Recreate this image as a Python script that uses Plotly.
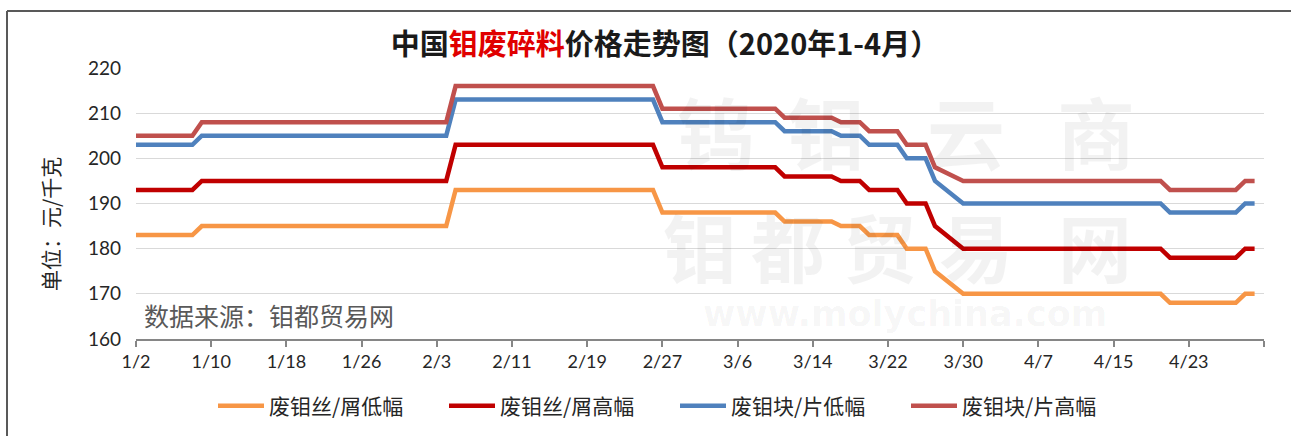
import plotly.graph_objects as go

# ---- data (breakpoints of the step-like price series, trading days) ----
dates = ["2020-01-02", "2020-01-08", "2020-01-09", "2020-02-04", "2020-02-05",
         "2020-02-26", "2020-02-27", "2020-03-10", "2020-03-11", "2020-03-16",
         "2020-03-17", "2020-03-19", "2020-03-20", "2020-03-23", "2020-03-24",
         "2020-03-26", "2020-03-27", "2020-03-30", "2020-04-20", "2020-04-21",
         "2020-04-28", "2020-04-29", "2020-04-30"]

wire_low = [183, 183, 185, 185, 193, 193, 188, 188, 186, 186, 185, 185,
            183, 183, 180, 180, 175, 170, 170, 168, 168, 170, 170]
wire_high = [193, 193, 195, 195, 203, 203, 198, 198, 196, 196, 195, 195,
             193, 193, 190, 190, 185, 180, 180, 178, 178, 180, 180]
block_low = [203, 203, 205, 205, 213, 213, 208, 208, 206, 206, 205, 205,
             203, 203, 200, 200, 195, 190, 190, 188, 188, 190, 190]
block_high = [205, 205, 208, 208, 216, 216, 211, 211, 209, 209, 208, 208,
              206, 206, 203, 203, 198, 195, 195, 193, 193, 195, 195]

series_names = ["废钼丝/屑低幅", "废钼丝/屑高幅", "废钼块/片低幅", "废钼块/片高幅"]
series_colors = ["#F79646", "#C00000", "#4F81BD", "#C0504D"]

tick_dates = ["2020-01-02", "2020-01-10", "2020-01-18", "2020-01-26", "2020-02-03",
              "2020-02-11", "2020-02-19", "2020-02-27", "2020-03-06", "2020-03-14",
              "2020-03-22", "2020-03-30", "2020-04-07", "2020-04-15", "2020-04-23",
              "2020-05-01"]
tick_labels = ["1/2", "1/10", "1/18", "1/26", "2/3", "2/11", "2/19", "2/27",
               "3/6", "3/14", "3/22", "3/30", "4/7", "4/15", "4/23", ""]

y_ticks = [160, 170, 180, 190, 200, 210, 220]

CJK = "Noto Sans CJK SC, Microsoft YaHei, sans-serif"
NUM = "Lato, Carlito, Calibri, sans-serif"

fig = go.Figure()
for name, vals, col in zip(series_names, [wire_low, wire_high, block_low, block_high], series_colors):
    fig.add_trace(go.Scatter(x=dates, y=vals, mode="lines", name=name,
                             line=dict(color=col, width=4.5)))

W, H = 1291, 436
L, R, T, B = 136, 27, 68, 97
pw, ph = W - L - R, H - T - B

def px(xp):
    return (xp - L) / pw

def py(yp):
    return (H - B - yp) / ph

annotations = []
# faint watermark
wm_rows = [
    (["钨", "钼", "云", "商"], [716, 826, 966, 1096], 130, 78),
    (["钼", "都", "贸", "易", "网"], [700, 788, 880, 976, 1095], 244, 74),
]
for chars, xs, yc, fs in wm_rows:
    for ch, xc in zip(chars, xs):
        annotations.append(dict(text="<b>%s</b>" % ch, x=px(xc), y=py(yc), xref="paper", yref="paper",
                                xanchor="center", yanchor="middle",
                                showarrow=False, font=dict(family=CJK, size=fs, color="rgba(0,0,0,0.05)")))
annotations.append(dict(text="<b>www.molychina.com</b>", x=px(905), y=py(314), xref="paper", yref="paper",
                        xanchor="center", yanchor="middle",
                        showarrow=False, font=dict(family="DejaVu Sans, sans-serif", size=35,
                                                   color="rgba(0,0,0,0.045)")))

annotations.append(dict(text="单位：元/千克", textangle=-90, x=px(50), y=py(224), xref="paper", yref="paper",
                        xanchor="center", yanchor="middle",
                        showarrow=False, font=dict(family=CJK, size=21, color="#262626")))
annotations.append(dict(text="数据来源：钼都贸易网", x=px(142), y=py(315), xref="paper", yref="paper",
                        xanchor="left", yanchor="middle", showarrow=False,
                        font=dict(family=CJK, size=25, color="#595959")))

shapes = [
    dict(type="line", xref="paper", yref="paper", x0=px(7), x1=px(1295), y0=py(11), y1=py(11),
         line=dict(color="#595959", width=2)),
    dict(type="line", xref="paper", yref="paper", x0=px(7), x1=px(7), y0=py(11), y1=py(440),
         line=dict(color="#595959", width=2)),
]

fig.update_layout(
    width=W, height=H, autosize=False,
    margin=dict(l=L, r=R, t=T, b=B),
    paper_bgcolor="white", plot_bgcolor="white",
    title=dict(text="<b>中国<span style='color:#E00000'>钼废碎料</span>价格走势图（2020年1-4月）</b>",
               x=665 / W, xanchor="center", y=1 - 45 / H, yanchor="middle",
               font=dict(family=CJK, size=29, color="#1a1a1a")),
    xaxis=dict(type="date", range=["2020-01-02", "2020-05-01"], tickvals=tick_dates, ticktext=tick_labels,
               showgrid=False, showline=True, linecolor="#868686", linewidth=1.5,
               ticks="outside", ticklen=6, tickcolor="#868686", tickwidth=1.5,
               tickfont=dict(family=NUM, size=18, color="#262626"), zeroline=False),
    yaxis=dict(range=[160, 220], tickvals=y_ticks, showgrid=True, gridcolor="#D9D9D9", gridwidth=1,
               showline=False, zeroline=False, ticks="", ticklabelstandoff=14,
               tickfont=dict(family=NUM, size=19, color="#262626")),
    legend=dict(orientation="h", xref="container", yref="container", x=213 / W, xanchor="left",
                y=1 - 406 / H, yanchor="middle", itemwidth=46, entrywidth=170,
                font=dict(family=CJK, size=21, color="#262626"), bgcolor="rgba(0,0,0,0)"),
    annotations=annotations,
    shapes=shapes,
    showlegend=True,
)

fig.write_html("out.html", config={"displayModeBar": False},
               post_script="document.body.style.margin='0';document.body.style.overflow='hidden';")
